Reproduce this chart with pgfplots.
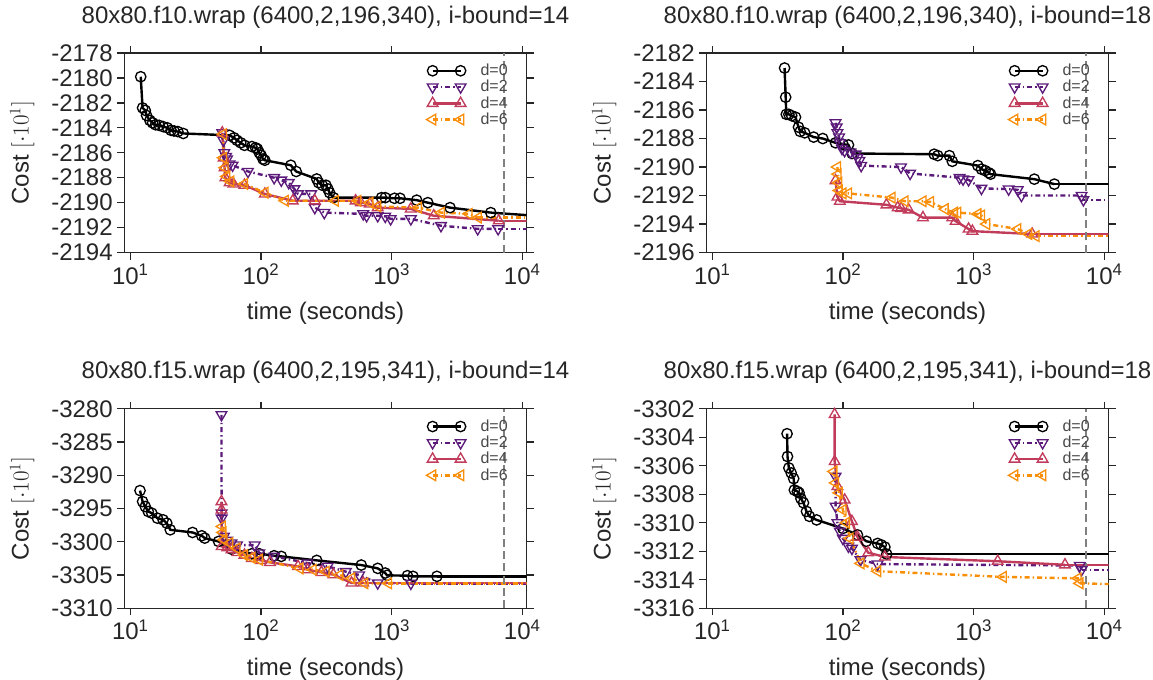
\documentclass[border=0pt]{standalone}
\usepackage{pgfplots}
\pgfplotsset{compat=1.18}
\usepackage{fontspec}
\setmainfont{Liberation Sans}
\definecolor{txt}{HTML}{262626}
\definecolor{legtxt}{HTML}{4A4A4A}
\definecolor{cP}{HTML}{5B1A7A}
\definecolor{cR}{HTML}{C13B5A}
\definecolor{cO}{HTML}{F98E09}
\definecolor{vgray}{HTML}{808080}
\newcommand{\bigf}{\fontsize{18}{21}\selectfont}
\newcommand{\legf}{\fontsize{12}{12}\selectfont}
\tikzset{
  s0/.style={black, line width=1.8pt, solid, mark=o, mark size=3.9pt, mark options={solid, line width=1pt}},
  s2/.style={cP, line width=1.8pt, dash pattern=on 3.75pt off 2.25pt on 1.1pt off 2.25pt, mark=triangle, mark size=4.6pt, mark options={solid, rotate=180, line width=1pt}},
  s4/.style={cR, line width=1.8pt, solid, mark=triangle, mark size=4.6pt, mark options={solid, line width=1pt}},
  s6/.style={cO, line width=1.8pt, dash pattern=on 3.75pt off 2.25pt on 1.1pt off 2.25pt, mark=triangle, mark size=4.6pt, mark options={solid, rotate=90, line width=1pt}},
  vl/.style={vgray, line width=1.7pt, dash pattern=on 6pt off 3.2pt},
}
\pgfplotsset{
  every axis/.append style={
    scale only axis, width=301.7pt, height=149.6pt,
    xmin=9, xmax=10800,
    xtick={10,100,1000,10000},
    xticklabels={{10\textsuperscript{1}},{10\textsuperscript{2}},{10\textsuperscript{3}},{10\textsuperscript{4}}},
    tick align=outside, xtick pos=both, ytick pos=both,
    xticklabel pos=lower, yticklabel pos=left,
    major tick length=5.25pt,
    tick style={txt, line width=0.9pt},
    axis line style={txt, line width=0.9pt},
    ticklabel style={text=txt, font=\bigf},
    title style={at={(0.5,1)}, anchor=base, yshift=16.5pt, text=txt, font=\bigf},
    xlabel style={at={(rel axis cs:0.5,0)}, anchor=center, yshift=-45.4pt, text=txt, font=\bigf},
    ylabel style={at={(rel axis cs:0,0.5)}, anchor=south, yshift=64pt, text=txt, font=\bigf},
    legend style={at={(rel axis cs:1,1)}, anchor=north east, xshift=-13pt, yshift=-7pt,
      draw=none, fill=none, font=\legf, text=legtxt, row sep=0pt, inner sep=0pt,
      nodes={inner sep=1pt},
      /tikz/every odd column/.append style={column sep=10pt}},
    legend cell align=left,
    legend image code/.code={\draw[mark repeat=1,mark phase=1,#1] plot coordinates {(0pt,0pt) (21pt,0pt)};},
  },
}
\begin{document}
\begin{tikzpicture}
\useasboundingbox (0,0) rectangle (864.75pt,510pt);
% ---------------- top left
\begin{semilogxaxis}[at={(93.3pt,320.6pt)}, anchor=south west,
  xminorticks=false,
  xlabel={time (seconds)}, ylabel={Cost $[\cdot 10^1]$},
  ymin=-2194, ymax=-2178,
  ytick={-2194,-2192,-2190,-2188,-2186,-2184,-2182,-2180,-2178},
  yticklabels={-2194,-2192,-2190,-2188,-2186,-2184,-2182,-2180,-2178},
  title={80x80.f10.wrap (6400,2,196,340), i-bound=14}]
\addplot[s0] coordinates {(12.0,-2179.9) (12.4,-2182.4) (13.0,-2182.6) (13.3,-2183.0) (14.1,-2183.4) (14.8,-2183.6) (15.6,-2183.75) (16.6,-2183.8) (17.8,-2183.9) (19.2,-2184.0) (20.5,-2184.2) (21.6,-2184.25) (23.1,-2184.3) (25.4,-2184.45) (57.5,-2184.6) (62.2,-2184.8) (65.5,-2185.0) (70.0,-2185.2) (74.7,-2185.4) (85.1,-2185.5) (90.9,-2185.6) (93.9,-2185.7) (97.0,-2186.0) (100.2,-2186.2) (103.5,-2186.5) (107.0,-2186.6) (169,-2187.0) (186,-2187.5) (267,-2188.1) (276,-2188.4) (294,-2188.6) (314,-2188.6) (325,-2188.9) (335,-2189.2) (358,-2189.6) (836,-2189.6) (893,-2189.6) (1051,-2189.65) (1159,-2189.65) (1555,-2189.8) (1891,-2190.0) (2798,-2190.4) (5737,-2190.8)};
\addplot[s0, no markers, forget plot] coordinates {(5737,-2190.8) (10800,-2191.0)};
\addplot[s2] coordinates {(50.5,-2184.4) (51.5,-2185.0) (52.4,-2186.0) (54.0,-2186.3) (55.0,-2186.5) (57.5,-2186.9) (60.6,-2187.0) (79.5,-2187.5) (126,-2188.0) (143,-2188.2) (163,-2188.4) (180,-2188.9) (192,-2189.3) (242,-2189.3) (258,-2190.4) (305,-2190.8) (606,-2190.9) (643,-2191.05) (782,-2191.05) (893,-2191.1) (982,-2191.3) (1403,-2191.3) (2385,-2191.85) (4557,-2192.1) (6530,-2192.1)};
\addplot[s2, no markers, forget plot] coordinates {(6530,-2192.1) (10800,-2192.1)};
\addplot[s4] coordinates {(50.5,-2184.4) (51.8,-2186.4) (52.6,-2187.2) (53.3,-2188.0) (57.5,-2188.4) (61.5,-2188.5) (74.7,-2188.6) (107,-2189.3) (175,-2189.85) (258,-2189.85) (530,-2189.85) (580,-2190.0) (680,-2190.1) (782,-2190.4) (1400,-2190.5) (2100,-2191.05) (6600,-2191.45)};
\addplot[s4, no markers, forget plot] coordinates {(6600,-2191.45) (10800,-2191.45)};
\addplot[s6] coordinates {(51.5,-2184.5) (51.6,-2186.4) (53.0,-2187.2) (54.6,-2187.9) (58.5,-2188.3) (74.7,-2188.5) (107,-2189.2) (153,-2189.85) (370,-2189.85) (550,-2189.85) (680,-2190.0) (782,-2190.3) (1600,-2190.4) (2400,-2190.8) (3900,-2190.9) (4600,-2191.2)};
\addplot[s6, no markers, forget plot] coordinates {(4600,-2191.2) (10800,-2191.2)};
\addplot[vl, forget plot] coordinates {(7200,-2194) (7200,-2178)};
\legend{d=0,d=2,d=4,d=6}
\end{semilogxaxis}
% ---------------- top right
\begin{semilogxaxis}[at={(529.8pt,320.6pt)}, anchor=south west,
  xminorticks=false,
  xlabel={time (seconds)}, ylabel={Cost $[\cdot 10^1]$},
  ymin=-2196, ymax=-2182,
  ytick={-2196,-2194,-2192,-2190,-2188,-2186,-2184,-2182},
  yticklabels={-2196,-2194,-2192,-2190,-2188,-2186,-2184,-2182},
  title={80x80.f10.wrap (6400,2,196,340), i-bound=18}]
\addplot[s0] coordinates {(35.7,-2183.05) (36.4,-2185.1) (36.8,-2186.3) (38.5,-2186.3) (40.5,-2186.4) (43.3,-2186.5) (45.6,-2187.2) (47.0,-2187.5) (50.9,-2187.6) (59.6,-2187.9) (70.0,-2188.0) (87.6,-2188.3) (99.8,-2188.4) (110.1,-2188.45) (117.3,-2189.05) (498,-2189.1) (531,-2189.2) (652,-2189.2) (686,-2189.6) (1076,-2189.9) (1147,-2190.15) (1223,-2190.25) (1305,-2190.4) (1348,-2190.5) (2913,-2190.85) (4148,-2191.2)};
\addplot[s0, no markers, forget plot] coordinates {(4148,-2191.2) (10800,-2191.2)};
\addplot[s2] coordinates {(87.6,-2186.9) (89.4,-2187.2) (90.6,-2187.6) (93.3,-2187.9) (94.5,-2188.3) (98.2,-2188.7) (102.8,-2188.85) (113.7,-2188.95) (125,-2189.1) (129.1,-2189.35) (133.4,-2189.55) (137.7,-2189.9) (278,-2190.0) (326,-2190.45) (780,-2190.75) (830,-2190.85) (914,-2190.9) (1147,-2191.5) (1853,-2191.55) (2175,-2191.6) (2320,-2192.0) (6700,-2192.0) (6920,-2192.3)};
\addplot[s2, no markers, forget plot] coordinates {(6920,-2192.3) (10800,-2192.3)};
\addplot[s4] coordinates {(87.6,-2190.95) (90.6,-2192.1) (94.5,-2192.4) (215,-2192.65) (262,-2192.85) (278,-2192.9) (318,-2193.0) (409,-2193.55) (686,-2193.55) (728,-2193.8) (914,-2194.35) (978,-2194.5) (2803,-2194.7)};
\addplot[s4, no markers, forget plot] coordinates {(2803,-2194.7) (10800,-2194.7)};
\addplot[s6] coordinates {(90.6,-2190.0) (91.5,-2190.5) (92.4,-2191.1) (93.3,-2191.65) (99.8,-2191.85) (110.1,-2191.85) (237,-2192.15) (298,-2192.4) (409,-2192.4) (467,-2192.45) (604,-2192.95) (711,-2193.2) (755,-2193.2) (1076,-2193.3) (1147,-2193.4) (1256,-2194.0) (2175,-2194.35) (2635,-2194.7) (3000,-2194.85)};
\addplot[s6, no markers, forget plot] coordinates {(3000,-2194.85) (10800,-2194.85)};
\addplot[vl, forget plot] coordinates {(7200,-2196) (7200,-2182)};
\legend{d=0,d=2,d=4,d=6}
\end{semilogxaxis}
% ---------------- bottom left
\begin{semilogxaxis}[at={(93.3pt,53.8pt)}, anchor=south west,
  xminorticks=false,
  xlabel={time (seconds)}, ylabel={Cost $[\cdot 10^1]$},
  ymin=-3310, ymax=-3280,
  ytick={-3310,-3305,-3300,-3295,-3290,-3285,-3280},
  yticklabels={-3310,-3305,-3300,-3295,-3290,-3285,-3280},
  title={80x80.f15.wrap (6400,2,195,341), i-bound=14}]
\addplot[s0] coordinates {(11.85,-3292.3) (12.4,-3293.95) (13.0,-3294.7) (13.7,-3295.45) (14.6,-3295.7) (16.1,-3296.45) (17.8,-3296.7) (19.0,-3297.2) (20.2,-3298.2) (29.9,-3298.6) (35.2,-3299.1) (37.1,-3299.45) (47.3,-3299.95) (59.4,-3301.1) (85.1,-3301.8) (97.0,-3301.8) (126,-3302.1) (143,-3302.2) (267,-3302.8) (585,-3303.5) (782,-3304.0) (893,-3304.7) (922,-3305.05) (1321,-3305.1) (1457,-3305.2) (2221,-3305.2)};
\addplot[s0, no markers, forget plot] coordinates {(2221,-3305.2) (10800,-3305.2)};
\addplot[s2] coordinates {(49.8,-3280.9) (49.9,-3295.7) (50.0,-3296.45) (52.0,-3299.2) (55.0,-3299.8) (59.4,-3300.2) (65.5,-3300.5) (89.6,-3300.5) (97.0,-3301.7) (126,-3302.2) (227,-3303.2) (324,-3303.7) (446,-3304.5) (564,-3305.0) (782,-3306.2) (1403,-3306.25)};
\addplot[s2, no markers, forget plot] coordinates {(1403,-3306.25) (10800,-3306.25)};
\addplot[s4] coordinates {(49.8,-3293.95) (49.9,-3295.2) (50.0,-3300.7) (55.0,-3300.9) (59.4,-3301.2) (66.0,-3301.6) (74.7,-3302.0) (85.1,-3302.5) (100,-3302.8) (117,-3303.1) (192,-3303.7) (227,-3304.2) (290,-3304.6) (358,-3304.95) (493,-3306.2) (606,-3306.2)};
\addplot[s4, no markers, forget plot] coordinates {(606,-3306.2) (10800,-3306.2)};
\addplot[s6] coordinates {(50.5,-3297.7) (51.0,-3298.6) (52.0,-3299.7) (57.5,-3300.2) (65.5,-3301.0) (74.7,-3302.0) (85.0,-3302.4) (97.0,-3302.7) (198,-3304.0) (250,-3304.2) (314,-3304.5) (400,-3305.0) (493,-3305.5) (622,-3306.25) (944,-3306.25)};
\addplot[s6, no markers, forget plot] coordinates {(944,-3306.25) (10800,-3306.25)};
\addplot[vl, forget plot] coordinates {(7200,-3310) (7200,-3280)};
\legend{d=0,d=2,d=4,d=6}
\end{semilogxaxis}
% ---------------- bottom right
\begin{semilogxaxis}[at={(529.8pt,53.8pt)}, anchor=south west,
  xminorticks=false,
  xlabel={time (seconds)}, ylabel={Cost $[\cdot 10^1]$},
  ymin=-3316, ymax=-3302,
  ytick={-3316,-3314,-3312,-3310,-3308,-3306,-3304,-3302},
  yticklabels={-3316,-3314,-3312,-3310,-3308,-3306,-3304,-3302},
  title={80x80.f15.wrap (6400,2,195,341), i-bound=18}]
\addplot[s0] coordinates {(37.3,-3303.75) (37.6,-3305.35) (38.5,-3306.15) (40.1,-3306.5) (41.9,-3306.9) (42.4,-3307.7) (44.7,-3307.8) (46.1,-3307.9) (47.6,-3308.3) (49.8,-3308.6) (52.5,-3309.2) (55.3,-3309.55) (62.8,-3309.8) (99.8,-3310.4) (129,-3310.85) (151,-3311.3) (184,-3311.45) (196,-3311.55) (209,-3311.7) (216,-3312.2)};
\addplot[s0, no markers, forget plot] coordinates {(216,-3312.2) (10800,-3312.2)};
\addplot[s2] coordinates {(87.6,-3306.75) (87.8,-3308.85) (90.6,-3310.0) (94.5,-3310.6) (99.8,-3311.1) (110,-3311.65) (117,-3311.8) (136,-3312.6) (184,-3312.9) (6490,-3313.0) (6700,-3313.3)};
\addplot[s2, no markers, forget plot] coordinates {(6700,-3313.3) (10800,-3313.3)};
\addplot[s4] coordinates {(86.2,-3302.4) (86.3,-3305.7) (90.6,-3307.45) (103,-3308.4) (117,-3309.9) (129,-3311.0) (156,-3312.1) (209,-3312.4) (1527,-3312.7) (5000,-3312.95)};
\addplot[s4, no markers, forget plot] coordinates {(5000,-3312.95) (10800,-3312.95)};
\addplot[s6] coordinates {(85,-3306.4) (87.6,-3307.2) (93.3,-3307.9) (99.8,-3309.1) (106,-3310.0) (113,-3311.1) (137,-3312.85) (184,-3313.4) (1680,-3313.8) (6290,-3313.9) (6490,-3314.25)};
\addplot[s6, no markers, forget plot] coordinates {(6490,-3314.25) (10800,-3314.3)};
\addplot[vl, forget plot] coordinates {(7200,-3316) (7200,-3302)};
\legend{d=0,d=2,d=4,d=6}
\end{semilogxaxis}
\end{tikzpicture}
\end{document}
